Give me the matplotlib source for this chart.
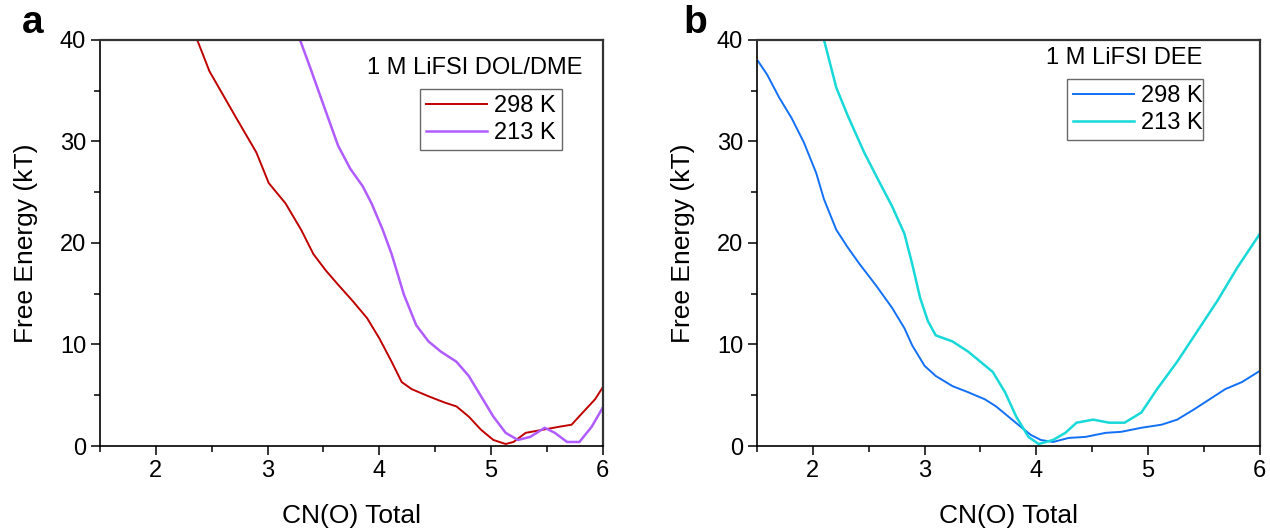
import matplotlib
matplotlib.use('Agg')
import matplotlib.pyplot as plt
from matplotlib.ticker import MultipleLocator

plt.rcParams['font.family'] = ['Liberation Sans', 'DejaVu Sans']

# --- Panel a: 1 M LiFSI DOL/DME ---
a_298_x = [2.37, 2.48, 2.72, 2.90, 3.01, 3.16, 3.30, 3.41, 3.52, 3.63, 3.76, 3.89, 4.00,
           4.11, 4.20, 4.29, 4.44, 4.58, 4.69, 4.80, 4.91, 5.02, 5.13, 5.20, 5.31, 5.46,
           5.61, 5.72, 5.82, 5.93, 6.00]
a_298_y = [40.0, 36.9, 32.3, 28.9, 25.9, 23.9, 21.3, 18.9, 17.3, 15.9, 14.3, 12.6, 10.6,
           8.3, 6.3, 5.6, 4.9, 4.3, 3.9, 2.9, 1.6, 0.6, 0.2, 0.4, 1.3, 1.6,
           1.9, 2.1, 3.3, 4.6, 5.8]
a_213_x = [3.29, 3.38, 3.49, 3.63, 3.74, 3.85, 3.93, 4.03, 4.11, 4.22, 4.33, 4.44, 4.55,
           4.69, 4.80, 4.91, 5.02, 5.13, 5.24, 5.35, 5.48, 5.57, 5.68, 5.79, 5.90, 6.00]
a_213_y = [40.0, 37.3, 33.9, 29.6, 27.3, 25.6, 23.9, 21.3, 18.9, 14.9, 11.9, 10.3, 9.3,
           8.3, 6.9, 4.9, 2.9, 1.3, 0.6, 0.9, 1.8, 1.3, 0.4, 0.4, 1.9, 3.8]

# --- Panel b: 1 M LiFSI DEE ---
b_298_x = [1.51, 1.59, 1.70, 1.81, 1.92, 2.03, 2.10, 2.21, 2.31, 2.42, 2.56, 2.71, 2.82,
           2.89, 3.00, 3.10, 3.25, 3.39, 3.54, 3.64, 3.75, 3.86, 3.95, 4.04, 4.15, 4.29,
           4.44, 4.62, 4.76, 4.94, 5.12, 5.26, 5.41, 5.55, 5.69, 5.84, 6.00]
b_298_y = [37.9, 36.6, 34.3, 32.3, 29.9, 26.9, 24.3, 21.3, 19.6, 17.9, 15.9, 13.6, 11.6,
           9.9, 7.9, 6.9, 5.9, 5.3, 4.6, 3.9, 2.9, 1.9, 1.1, 0.6, 0.4, 0.8,
           0.9, 1.3, 1.4, 1.8, 2.1, 2.6, 3.6, 4.6, 5.6, 6.3, 7.4]
b_213_x = [2.10, 2.21, 2.31, 2.46, 2.60, 2.71, 2.82, 2.89, 2.96, 3.03, 3.10, 3.25, 3.39,
           3.50, 3.61, 3.72, 3.82, 3.93, 4.02, 4.15, 4.26, 4.36, 4.51, 4.65, 4.79, 4.94,
           5.08, 5.26, 5.44, 5.62, 5.80, 6.00]
b_213_y = [40.0, 35.3, 32.6, 28.9, 25.9, 23.6, 20.9, 17.9, 14.6, 12.3, 10.9, 10.3, 9.3,
           8.3, 7.3, 5.3, 2.9, 0.9, 0.2, 0.6, 1.3, 2.3, 2.6, 2.3, 2.3, 3.3,
           5.6, 8.3, 11.3, 14.3, 17.6, 20.9]

fig = plt.figure(figsize=(12.7, 5.31), dpi=100)
ax_a = fig.add_axes([0.0787, 0.160, 0.396, 0.765])
ax_b = fig.add_axes([0.596, 0.160, 0.396, 0.765])

panels = [
    (ax_a, 'a', '1 M LiFSI DOL/DME', (0.96, 0.93),
     (a_298_x, a_298_y, '#c00000', 1.4), (a_213_x, a_213_y, '#b05cff', 1.8),
     (0.636, 0.729, 0.282, 0.153), -0.155),
    (ax_b, 'b', '1 M LiFSI DEE', (0.885, 0.955),
     (b_298_x, b_298_y, '#1170f5', 1.4), (b_213_x, b_213_y, '#18d8d8', 1.8),
     (0.616, 0.754, 0.271, 0.147), -0.147),
]

for ax, letter, title, tpos, s298, s213, lbox, lx in panels:
    ax.plot(s298[0], s298[1], color=s298[2], lw=s298[3], label='298 K')
    ax.plot(s213[0], s213[1], color=s213[2], lw=s213[3], label='213 K')
    ax.set_xlim(1.5, 6)
    ax.set_ylim(0, 40)
    ax.xaxis.set_major_locator(MultipleLocator(1))
    ax.xaxis.set_minor_locator(MultipleLocator(0.5))
    ax.yaxis.set_major_locator(MultipleLocator(10))
    ax.yaxis.set_minor_locator(MultipleLocator(5))
    ax.tick_params(which='major', direction='out', length=6.5, width=1.1, labelsize=17,
                   top=False, right=False)
    ax.tick_params(which='minor', direction='out', length=4, width=1.1,
                   top=False, right=False)
    for side in ['left', 'bottom']:
        ax.spines[side].set_color('black')
        ax.spines[side].set_linewidth(1.2)
    for side in ['top', 'right']:
        ax.spines[side].set_color('#333333')
        ax.spines[side].set_linewidth(1.6)
    ax.set_xlabel('CN(O) Total', fontsize=19, labelpad=16)
    ax.set_ylabel('Free Energy (kT)', fontsize=19, labelpad=16)
    ax.text(tpos[0], tpos[1], title, transform=ax.transAxes, ha='right', va='center',
            fontsize=17)
    leg = ax.legend(loc='lower left', bbox_to_anchor=lbox, mode='expand', fontsize=17,
                    frameon=True, fancybox=False, handlelength=2.6, handletextpad=0.3,
                    borderpad=0.25, labelspacing=0.2, borderaxespad=0)
    leg.get_frame().set_edgecolor('#444444')
    leg.get_frame().set_linewidth(1.0)
    ax.text(lx, 1.042, letter, transform=ax.transAxes, fontsize=28, fontweight='bold',
            ha='left', va='center')

fig.savefig('out.png', dpi=100)
